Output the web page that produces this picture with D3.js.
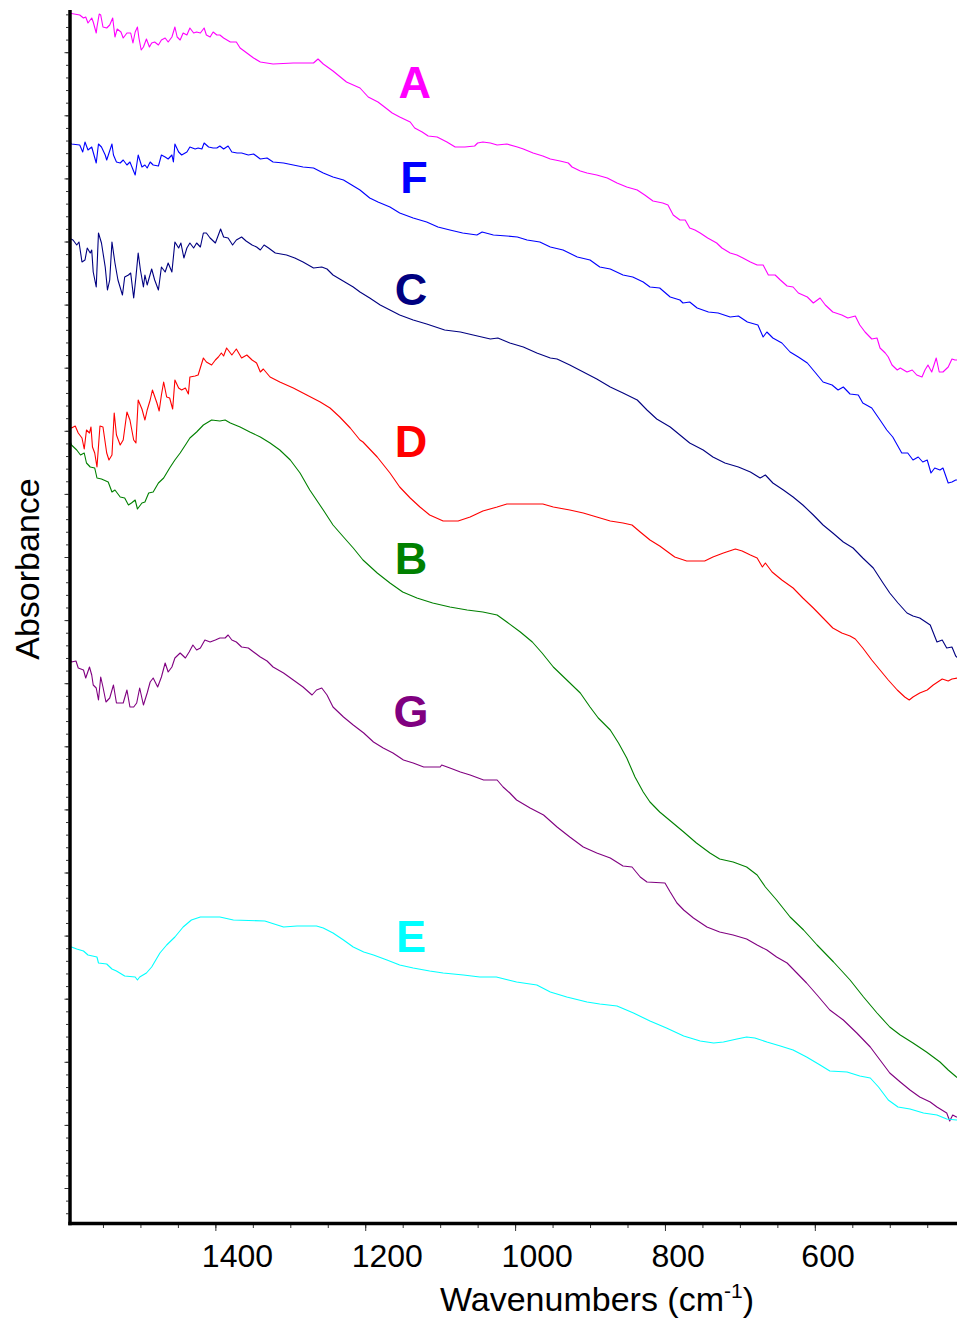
<!DOCTYPE html>
<html><head><meta charset="utf-8">
<script src="https://cdn.jsdelivr.net/npm/d3@7"></script>
<style>
html,body{margin:0;padding:0;background:#fff;}
svg{display:block;}
</style></head>
<body>
<svg id="chart" width="957" height="1323"></svg>
<script>
// FTIR spectra, stacked with vertical offsets: [wavenumber (cm-1), absorbance (a.u.)]
const specA = [[1596,1.210],[1581,1.208],[1576,1.205],[1573,1.206],[1570,1.200],[1565,1.205],[1563,1.201],[1559,1.190],[1558,1.196],[1555,1.209],
[1553,1.208],[1550,1.196],[1545,1.195],[1541,1.198],[1537,1.205],[1534,1.186],[1531,1.194],[1526,1.191],[1523,1.185],[1518,1.190],
[1513,1.190],[1510,1.180],[1507,1.191],[1504,1.196],[1502,1.185],[1499,1.173],[1496,1.176],[1492,1.184],[1488,1.176],[1485,1.180],
[1481,1.181],[1476,1.178],[1472,1.183],[1467,1.185],[1463,1.181],[1458,1.186],[1454,1.196],[1451,1.186],[1447,1.183],[1443,1.190],
[1438,1.188],[1434,1.195],[1429,1.190],[1425,1.191],[1420,1.190],[1415,1.195],[1412,1.188],[1407,1.186],[1403,1.191],[1398,1.188],
[1394,1.188],[1389,1.185],[1380,1.181],[1372,1.181],[1367,1.175],[1358,1.170],[1349,1.165],[1340,1.161],[1323,1.159],[1296,1.160],
[1269,1.160],[1263,1.164],[1256,1.159],[1243,1.152],[1225,1.141],[1207,1.135],[1196,1.126],[1183,1.121],[1176,1.117],[1164,1.110],
[1154,1.106],[1140,1.101],[1134,1.095],[1124,1.091],[1116,1.087],[1104,1.086],[1091,1.081],[1080,1.076],[1067,1.076],[1054,1.077],
[1050,1.080],[1043,1.081],[1033,1.080],[1024,1.078],[1011,1.079],[997,1.076],[989,1.074],[976,1.070],[963,1.067],[953,1.064],
[940,1.062],[929,1.060],[924,1.056],[913,1.052],[904,1.050],[891,1.048],[877,1.045],[864,1.040],[851,1.036],[837,1.033],
[827,1.028],[816,1.022],[803,1.020],[796,1.018],[789,1.008],[780,1.003],[773,1.003],[767,0.995],[760,0.993],[753,0.990],
[743,0.985],[731,0.980],[724,0.975],[713,0.970],[704,0.968],[696,0.965],[686,0.961],[677,0.958],[669,0.958],[662,0.948],
[653,0.948],[646,0.943],[637,0.937],[629,0.936],[622,0.930],[610,0.926],[602,0.920],[593,0.925],[586,0.918],[576,0.911],
[564,0.908],[556,0.905],[546,0.907],[540,0.898],[533,0.891],[524,0.884],[517,0.885],[513,0.875],[506,0.870],[502,0.866],
[497,0.858],[490,0.853],[486,0.855],[477,0.851],[470,0.853],[464,0.848],[457,0.846],[453,0.853],[449,0.858],[444,0.851],
[438,0.865],[434,0.851],[429,0.851],[422,0.856],[417,0.864],[413,0.863],[409,0.863]];

const specF = [[1596,1.083],[1592,1.079],[1581,1.078],[1577,1.071],[1574,1.081],[1570,1.073],[1565,1.076],[1559,1.060],[1556,1.079],[1552,1.076],
[1547,1.068],[1545,1.063],[1538,1.079],[1536,1.068],[1532,1.061],[1527,1.060],[1523,1.063],[1518,1.058],[1514,1.061],[1507,1.048],
[1503,1.068],[1498,1.056],[1494,1.058],[1491,1.055],[1487,1.061],[1483,1.058],[1476,1.057],[1472,1.068],[1467,1.066],[1463,1.064],
[1458,1.068],[1456,1.061],[1454,1.079],[1449,1.071],[1445,1.068],[1438,1.071],[1434,1.076],[1427,1.074],[1423,1.075],[1418,1.074],
[1415,1.080],[1409,1.076],[1403,1.075],[1398,1.075],[1394,1.077],[1389,1.074],[1383,1.077],[1378,1.071],[1371,1.070],[1365,1.070],
[1356,1.068],[1349,1.069],[1340,1.064],[1331,1.065],[1323,1.061],[1309,1.060],[1296,1.058],[1283,1.056],[1269,1.055],[1256,1.050],
[1243,1.046],[1229,1.043],[1218,1.038],[1207,1.033],[1194,1.025],[1183,1.021],[1167,1.016],[1154,1.010],[1136,1.005],[1118,1.001],
[1103,0.996],[1087,0.993],[1070,0.990],[1051,0.988],[1044,0.991],[1029,0.988],[1011,0.987],[997,0.986],[984,0.983],[967,0.981],
[953,0.976],[936,0.973],[917,0.966],[900,0.963],[887,0.956],[873,0.954],[856,0.948],[843,0.946],[829,0.941],[820,0.936],
[807,0.935],[793,0.926],[780,0.923],[776,0.920],[767,0.921],[757,0.915],[742,0.911],[729,0.910],[713,0.906],[702,0.907],
[690,0.901],[676,0.898],[669,0.886],[664,0.891],[656,0.885],[644,0.880],[633,0.871],[622,0.866],[610,0.860],[600,0.851],
[589,0.841],[577,0.838],[569,0.833],[562,0.836],[553,0.829],[542,0.828],[536,0.820],[524,0.815],[513,0.803],[504,0.793],
[496,0.786],[490,0.778],[484,0.770],[476,0.770],[469,0.763],[462,0.766],[456,0.761],[450,0.763],[445,0.750],[440,0.755],
[433,0.753],[429,0.755],[422,0.740],[417,0.741],[412,0.743],[409,0.743]];

const specC = [[1596,0.985],[1590,0.983],[1585,0.978],[1582,0.981],[1578,0.961],[1574,0.963],[1571,0.975],[1567,0.970],[1565,0.973],[1563,0.951],
[1559,0.936],[1556,0.990],[1552,0.980],[1547,0.956],[1544,0.933],[1541,0.943],[1538,0.981],[1534,0.960],[1530,0.943],[1524,0.928],
[1521,0.946],[1516,0.948],[1513,0.950],[1509,0.925],[1506,0.946],[1503,0.970],[1500,0.953],[1496,0.936],[1494,0.948],[1491,0.938],
[1485,0.954],[1481,0.943],[1476,0.933],[1472,0.956],[1467,0.951],[1463,0.960],[1458,0.951],[1454,0.981],[1449,0.975],[1446,0.980],
[1442,0.965],[1438,0.975],[1434,0.980],[1429,0.975],[1425,0.980],[1420,0.976],[1416,0.990],[1412,0.990],[1407,0.985],[1400,0.980],
[1396,0.988],[1393,0.994],[1389,0.986],[1383,0.985],[1377,0.978],[1372,0.983],[1365,0.986],[1359,0.982],[1351,0.978],[1345,0.976],
[1340,0.973],[1335,0.978],[1329,0.975],[1320,0.970],[1305,0.968],[1294,0.965],[1283,0.961],[1269,0.955],[1258,0.956],[1251,0.954],
[1243,0.948],[1234,0.944],[1225,0.940],[1216,0.936],[1207,0.931],[1194,0.925],[1180,0.918],[1167,0.913],[1154,0.908],[1136,0.903],
[1118,0.899],[1094,0.893],[1073,0.891],[1056,0.888],[1033,0.884],[1023,0.885],[1007,0.880],[989,0.876],[971,0.870],[953,0.865],
[944,0.864],[927,0.858],[909,0.851],[891,0.844],[873,0.836],[856,0.830],[837,0.823],[824,0.813],[811,0.804],[793,0.796],
[780,0.788],[767,0.780],[749,0.773],[736,0.766],[720,0.760],[702,0.756],[686,0.751],[673,0.745],[666,0.748],[656,0.740],
[642,0.733],[629,0.726],[616,0.718],[602,0.708],[589,0.698],[576,0.690],[562,0.681],[549,0.675],[536,0.665],[522,0.655],
[509,0.640],[500,0.630],[489,0.620],[477,0.610],[469,0.607],[460,0.605],[446,0.598],[437,0.581],[430,0.583],[424,0.575],
[417,0.576],[412,0.567],[409,0.565]];

const specD = [[1596,0.796],[1592,0.795],[1587,0.797],[1583,0.790],[1578,0.785],[1575,0.774],[1572,0.793],[1568,0.790],[1566,0.796],[1564,0.776],
[1561,0.770],[1558,0.756],[1554,0.797],[1550,0.796],[1545,0.770],[1542,0.763],[1538,0.768],[1535,0.810],[1532,0.788],[1527,0.778],
[1523,0.783],[1518,0.811],[1514,0.803],[1509,0.783],[1506,0.780],[1503,0.823],[1498,0.814],[1494,0.803],[1491,0.813],[1487,0.823],
[1484,0.833],[1478,0.820],[1475,0.812],[1472,0.828],[1469,0.841],[1465,0.826],[1461,0.825],[1457,0.814],[1454,0.843],[1449,0.835],
[1445,0.833],[1440,0.835],[1436,0.829],[1434,0.846],[1427,0.847],[1423,0.848],[1416,0.865],[1412,0.861],[1405,0.858],[1400,0.863],
[1396,0.866],[1392,0.870],[1389,0.867],[1385,0.875],[1378,0.868],[1372,0.874],[1365,0.865],[1358,0.868],[1351,0.863],[1345,0.860],
[1340,0.851],[1336,0.854],[1327,0.846],[1314,0.841],[1296,0.835],[1278,0.828],[1260,0.821],[1247,0.815],[1234,0.806],[1220,0.795],
[1207,0.783],[1203,0.781],[1184,0.766],[1167,0.750],[1154,0.736],[1140,0.725],[1127,0.716],[1114,0.708],[1096,0.702],[1076,0.702],
[1060,0.706],[1043,0.712],[1024,0.716],[1011,0.719],[997,0.719],[963,0.719],[949,0.716],[927,0.713],[909,0.710],[891,0.706],
[873,0.702],[856,0.700],[844,0.698],[833,0.691],[820,0.683],[807,0.677],[787,0.666],[771,0.662],[747,0.662],[736,0.666],
[722,0.670],[706,0.674],[697,0.672],[686,0.668],[677,0.665],[670,0.656],[666,0.660],[657,0.651],[644,0.643],[629,0.635],
[616,0.625],[602,0.615],[589,0.605],[576,0.595],[564,0.590],[553,0.587],[546,0.584],[536,0.575],[524,0.563],[513,0.553],
[502,0.543],[490,0.533],[480,0.526],[474,0.523],[469,0.526],[460,0.530],[450,0.533],[442,0.538],[430,0.544],[422,0.542],
[417,0.544],[409,0.545]];

const specB = [[1596,0.786],[1592,0.778],[1585,0.773],[1580,0.768],[1575,0.770],[1572,0.760],[1567,0.756],[1561,0.755],[1558,0.745],[1552,0.744],
[1543,0.741],[1538,0.731],[1534,0.733],[1527,0.726],[1521,0.725],[1516,0.718],[1512,0.720],[1507,0.723],[1504,0.714],[1498,0.720],
[1494,0.721],[1489,0.730],[1483,0.731],[1476,0.740],[1469,0.745],[1461,0.755],[1454,0.763],[1447,0.770],[1440,0.778],[1434,0.785],
[1425,0.791],[1416,0.798],[1405,0.803],[1394,0.802],[1387,0.803],[1380,0.800],[1367,0.796],[1354,0.791],[1340,0.786],[1327,0.780],
[1314,0.773],[1300,0.763],[1287,0.750],[1274,0.733],[1256,0.713],[1243,0.698],[1229,0.686],[1216,0.675],[1203,0.663],[1184,0.650],
[1167,0.640],[1150,0.631],[1131,0.625],[1110,0.620],[1087,0.616],[1064,0.613],[1043,0.611],[1024,0.608],[1011,0.601],[993,0.591],
[977,0.581],[964,0.570],[949,0.556],[931,0.543],[913,0.530],[900,0.516],[889,0.505],[873,0.493],[862,0.480],[851,0.465],
[840,0.446],[829,0.431],[820,0.421],[807,0.411],[791,0.401],[775,0.391],[758,0.380],[740,0.370],[727,0.364],[709,0.361],
[691,0.356],[677,0.348],[666,0.336],[651,0.323],[633,0.306],[615,0.293],[597,0.278],[575,0.261],[553,0.243],[535,0.226],
[517,0.210],[500,0.196],[486,0.188],[469,0.180],[451,0.171],[433,0.161],[422,0.153],[411,0.146],[409,0.145]];

const specG = [[1596,0.566],[1592,0.561],[1586,0.562],[1583,0.555],[1576,0.553],[1573,0.545],[1568,0.556],[1565,0.548],[1563,0.538],[1559,0.535],
[1556,0.523],[1553,0.546],[1550,0.536],[1546,0.521],[1541,0.525],[1536,0.538],[1532,0.520],[1523,0.520],[1518,0.533],[1514,0.516],
[1509,0.516],[1505,0.520],[1501,0.535],[1496,0.518],[1491,0.530],[1487,0.541],[1483,0.545],[1477,0.536],[1472,0.546],[1467,0.560],
[1463,0.551],[1458,0.556],[1454,0.565],[1447,0.570],[1440,0.565],[1435,0.571],[1430,0.578],[1425,0.573],[1420,0.575],[1414,0.583],
[1407,0.581],[1400,0.583],[1394,0.585],[1387,0.585],[1383,0.588],[1378,0.583],[1372,0.581],[1365,0.576],[1356,0.575],[1349,0.571],
[1340,0.566],[1331,0.562],[1323,0.556],[1309,0.550],[1296,0.543],[1283,0.536],[1271,0.528],[1265,0.533],[1258,0.535],[1251,0.528],
[1243,0.516],[1229,0.506],[1216,0.498],[1202,0.490],[1189,0.481],[1176,0.475],[1163,0.470],[1149,0.463],[1136,0.460],[1122,0.456],
[1100,0.456],[1098,0.458],[1087,0.455],[1073,0.451],[1060,0.448],[1042,0.443],[1024,0.443],[1016,0.436],[1007,0.430],[998,0.423],
[980,0.415],[962,0.408],[944,0.396],[927,0.386],[909,0.376],[891,0.370],[873,0.365],[856,0.357],[844,0.356],[833,0.346],
[824,0.341],[800,0.340],[793,0.331],[784,0.320],[775,0.313],[762,0.305],[744,0.296],[727,0.291],[709,0.288],[691,0.284],
[677,0.278],[664,0.273],[651,0.266],[637,0.260],[624,0.250],[611,0.240],[597,0.228],[580,0.213],[562,0.203],[544,0.190],
[526,0.176],[513,0.163],[500,0.150],[486,0.141],[473,0.133],[460,0.126],[446,0.121],[437,0.116],[424,0.110],[420,0.102],
[416,0.108],[411,0.106],[409,0.106]];

const specE = [[1596,0.277],[1592,0.276],[1585,0.274],[1576,0.272],[1570,0.268],[1558,0.266],[1556,0.260],[1545,0.259],[1538,0.254],[1532,0.252],
[1521,0.247],[1507,0.246],[1504,0.243],[1501,0.246],[1492,0.250],[1485,0.256],[1474,0.270],[1465,0.278],[1454,0.286],[1443,0.296],
[1432,0.303],[1420,0.306],[1394,0.306],[1376,0.303],[1334,0.302],[1309,0.296],[1291,0.297],[1265,0.297],[1256,0.295],[1243,0.290],
[1229,0.283],[1216,0.276],[1202,0.271],[1189,0.268],[1171,0.263],[1154,0.258],[1136,0.255],[1114,0.252],[1096,0.250],[1069,0.248],
[1047,0.246],[1025,0.246],[1009,0.243],[998,0.241],[971,0.238],[953,0.231],[931,0.226],[904,0.221],[887,0.219],[864,0.217],
[842,0.210],[820,0.202],[798,0.195],[775,0.187],[753,0.182],[735,0.180],[722,0.181],[704,0.184],[691,0.186],[680,0.185],
[664,0.181],[646,0.177],[629,0.173],[611,0.166],[593,0.158],[580,0.152],[557,0.151],[540,0.147],[526,0.145],[515,0.136],
[502,0.123],[489,0.116],[473,0.114],[455,0.110],[437,0.108],[424,0.104],[411,0.103],[409,0.103]];

const seriesNames  = ["A", "F", "C", "D", "B", "G", "E"];
const seriesData   = [specA, specF, specC, specD, specB, specG, specE];
const seriesColors = ["#ff00ff", "#0000ff", "#000080", "#ff0000", "#008000", "#800080", "#00ffff"];
// label anchor for each trace name: [wavenumber, absorbance]
const labelSpots   = [[1134, 1.125], [1135, 1.030], [1139, 0.918], [1139, 0.766], [1139, 0.649], [1139, 0.496], [1139, 0.271]];

const xTickLabels = [1400, 1200, 1000, 800, 600];

const svg = d3.select("#chart");
const FONT = "'Liberation Sans', Arial, Helvetica, sans-serif";

const x = d3.scaleLinear().domain([1600, 400]).range([65.5, 964.7]);
const y = d3.scaleLinear().domain([0, 1.213]).range([1223, 10]);

// plot clipping
svg.append("defs").append("clipPath").attr("id", "plotClip")
  .append("rect").attr("x", 70).attr("y", 0).attr("width", 887).attr("height", 1222);

// y ticks (unlabelled): major every 0.0631, five minor divisions
const yMajor = d3.range(19).map(i => 0.035 + i * 0.0631);
const yMinor = d3.range(-2, 94).map(i => 0.035 + i * 0.01262).filter(v => v > 0.005 && v < 1.21);

const yAxisG = svg.append("g").attr("transform", "translate(68.5,0)");
yAxisG.append("g").call(d3.axisLeft(y).tickValues(yMinor).tickSize(2.5).tickFormat(""));
yAxisG.append("g").call(d3.axisLeft(y).tickValues(yMajor).tickSize(4).tickFormat(""));
yAxisG.selectAll(".domain").remove();
yAxisG.selectAll(".tick line").attr("stroke", "#333").attr("stroke-width", 1);

// x ticks: minor every 50 cm-1, major every 200 cm-1
const xMinor = d3.range(1550, 400, -50);
const xAxisG = svg.append("g").attr("transform", "translate(0,1225)");
xAxisG.append("g").call(d3.axisBottom(x).tickValues(xMinor).tickSize(3).tickFormat(""));
const xMajG = xAxisG.append("g").call(d3.axisBottom(x).tickValues(xTickLabels).tickSize(6).tickFormat(d3.format("d")));
xAxisG.selectAll(".domain").remove();
xAxisG.selectAll(".tick line").attr("stroke", "#333").attr("stroke-width", 1);
xMajG.selectAll(".tick text")
  .attr("x", -14).attr("y", 42).attr("dy", null)
  .attr("text-anchor", "start")
  .attr("fill", "#000")
  .style("font-family", FONT).style("font-size", "32px");

// spectra
const line = d3.line().x(d => x(d[0])).y(d => y(d[1]));
const traces = svg.append("g").attr("clip-path", "url(#plotClip)");
seriesData.forEach((s, i) => {
  traces.append("path")
    .datum(s)
    .attr("d", line)
    .attr("fill", "none")
    .attr("stroke", seriesColors[i])
    .attr("stroke-width", 1.1)
    .attr("stroke-linejoin", "round");
});

// trace names
svg.append("g").selectAll("text")
  .data(seriesNames)
  .join("text")
  .attr("x", (d, i) => x(labelSpots[i][0]))
  .attr("y", (d, i) => y(labelSpots[i][1]))
  .attr("text-anchor", "middle")
  .attr("fill", (d, i) => seriesColors[i])
  .style("font-family", FONT)
  .style("font-weight", "bold")
  .style("font-size", "45px")
  .text(d => d);

// axis frame lines
svg.append("line").attr("x1", 70).attr("x2", 70).attr("y1", 10).attr("y2", 1225.3)
  .attr("stroke", "#000").attr("stroke-width", 3.5);
svg.append("line").attr("x1", 68.3).attr("x2", 957).attr("y1", 1223.5).attr("y2", 1223.5)
  .attr("stroke", "#000").attr("stroke-width", 3.5);

// axis titles
const xt = svg.append("text")
  .attr("x", 597).attr("y", 1311)
  .attr("text-anchor", "middle")
  .style("font-family", FONT).style("font-size", "34px").attr("fill", "#000");
xt.append("tspan").text("Wavenumbers (cm");
xt.append("tspan").attr("dy", -13).style("font-size", "21px").text("-1");
xt.append("tspan").attr("dy", 13).text(")");

svg.append("text")
  .attr("transform", "translate(39,569) rotate(-90)")
  .attr("text-anchor", "middle")
  .style("font-family", FONT).style("font-size", "34px").attr("fill", "#000")
  .text("Absorbance");
</script>
</body></html>
